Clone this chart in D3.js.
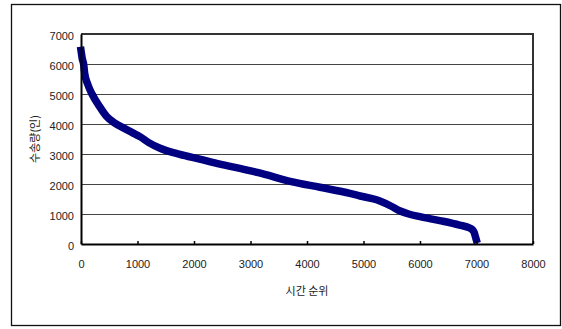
<!DOCTYPE html>
<html>
<head>
<meta charset="utf-8">
<script src="https://cdn.jsdelivr.net/npm/d3@7"></script>
<style>
	html, body { margin: 0; padding: 0; background: #fff; }
	svg { display: block; }
	text { font-family: "Liberation Sans", Arial, "Noto Sans CJK KR", sans-serif; fill: #222; }
	.kor { font-family: "Noto Sans CJK KR", sans-serif; }
</style>
</head>
<body>
<svg width="562" height="329"></svg>
<script>
// 시간 순위 (rank) and 수송량 (passengers)
let ranks = [0, 20, 50, 65, 120, 195, 330, 450, 600, 750, 900, 1050, 1200, 1400,
	1750, 2100, 2460, 2810, 3140, 3700, 4230, 4760, 4940, 5200, 5290, 5500, 5650,
	5800, 6000, 6350, 6700, 6880, 6930, 6960, 6980, 6995]
let riders = [6450, 6200, 5950, 5690, 5320, 5000, 4580, 4260, 4030, 3870, 3720, 3570, 3380, 3190,
	2990, 2830, 2660, 2520, 2380, 2090, 1890, 1690, 1600, 1490, 1430, 1250, 1100,
	1000, 910, 780, 630, 530, 470, 380, 250, 150]

let xTicks = [0, 1000, 2000, 3000, 4000, 5000, 6000, 7000, 8000]
let yTicks = [0, 1000, 2000, 3000, 4000, 5000, 6000, 7000]

let xTitle = '시간 순위'
let yTitle = '수송량(인)'

let config = {
	svg: undefined,
	left: 81,
	right: 533,
	top: 34,
	bottom: 244,
	xScale: undefined,
	yScale: undefined,
}

function createScales() {
	config.xScale = d3.scaleLinear()
		.domain([0, 8000])
		.range([config.left, config.right])
	config.yScale = d3.scaleLinear()
		.domain([0, 7000])
		.range([config.bottom, config.top])
}

function drawFrame() {
	config.svg.append('rect')
		.attr('x', 11.5).attr('y', 4.5)
		.attr('width', 549).attr('height', 321)
		.attr('fill', 'none')
		.attr('stroke', '#111')
		.attr('stroke-width', 1.3)
}

function drawGrid() {
	config.svg.append('g')
		.selectAll('line')
		.data(yTicks.filter(d => d > 0))
		.enter()
		.append('line')
		.attr('x1', config.left)
		.attr('x2', config.right)
		.attr('y1', d => Math.round(config.yScale(d)) + 0.5)
		.attr('y2', d => Math.round(config.yScale(d)) + 0.5)
		.attr('stroke', '#444')
		.attr('stroke-width', 1)

	// plot border, top and right
	config.svg.append('path')
		.attr('d', `M${config.left},${config.top}H${config.right}V${config.bottom}`)
		.attr('fill', 'none')
		.attr('stroke', '#333')
		.attr('stroke-width', 2)
}

function drawAxis() {
	let bottomAxis = d3.axisBottom(config.xScale)
		.tickValues(xTicks)
		.tickSizeInner(-3)
		.tickSizeOuter(0)
		.tickPadding(16)
		.tickFormat(d3.format('d'))
	let bottomAxisG = config.svg.append('g')
		.attr('transform', `translate(0, ${config.bottom})`)
		.call(bottomAxis)
	bottomAxisG.select('.domain').attr('stroke', '#000').attr('stroke-width', 2)
	bottomAxisG.selectAll('.tick line').attr('stroke', '#000').attr('stroke-width', 1.5)
	bottomAxisG.selectAll('text').attr('font-size', 11).attr('fill', '#222')

	let leftAxis = d3.axisLeft(config.yScale)
		.tickValues(yTicks)
		.tickSize(0)
		.tickPadding(7)
		.tickFormat(d3.format('d'))
	let leftAxisG = config.svg.append('g')
		.attr('transform', `translate(${config.left}, 0)`)
		.call(leftAxis)
	leftAxisG.select('.domain').attr('stroke', '#000').attr('stroke-width', 2)
	leftAxisG.selectAll('text').attr('font-size', 11).attr('fill', '#222').attr('dy', '0.5em')
	bottomAxisG.selectAll('text').attr('font-family', '"Liberation Sans", Arial, sans-serif')
	leftAxisG.selectAll('text').attr('font-family', '"Liberation Sans", Arial, sans-serif')
}

function drawTitles() {
	config.svg.append('text')
		.attr('class', 'kor')
		.attr('x', (config.left + config.right) / 2)
		.attr('y', 295)
		.attr('text-anchor', 'middle')
		.attr('font-size', 11)
		.text(xTitle)

	config.svg.append('text')
		.attr('class', 'kor')
		.attr('transform', `translate(39, ${(config.top + config.bottom) / 2}) rotate(-90)`)
		.attr('text-anchor', 'middle')
		.attr('font-size', 11)
		.text(yTitle)
}

function render() {
	let data = ranks.map((r, i) => ({ rank: r, value: riders[i] }))
	let line = d3.line()
		.x(d => config.xScale(d.rank))
		.y(d => config.yScale(d.value))
		.curve(d3.curveMonotoneX)

	config.svg.append('path')
		.datum(data)
		.attr('d', line)
		.attr('fill', 'none')
		.attr('stroke', '#000080')
		.attr('stroke-width', 7.5)
		.attr('stroke-linejoin', 'round')
		.attr('stroke-linecap', 'square')
}

function app() {
	config.svg = d3.select('svg')
	createScales()
	drawFrame()
	drawGrid()
	render()
	drawAxis()
	drawTitles()
}

app()
</script>
</body>
</html>
